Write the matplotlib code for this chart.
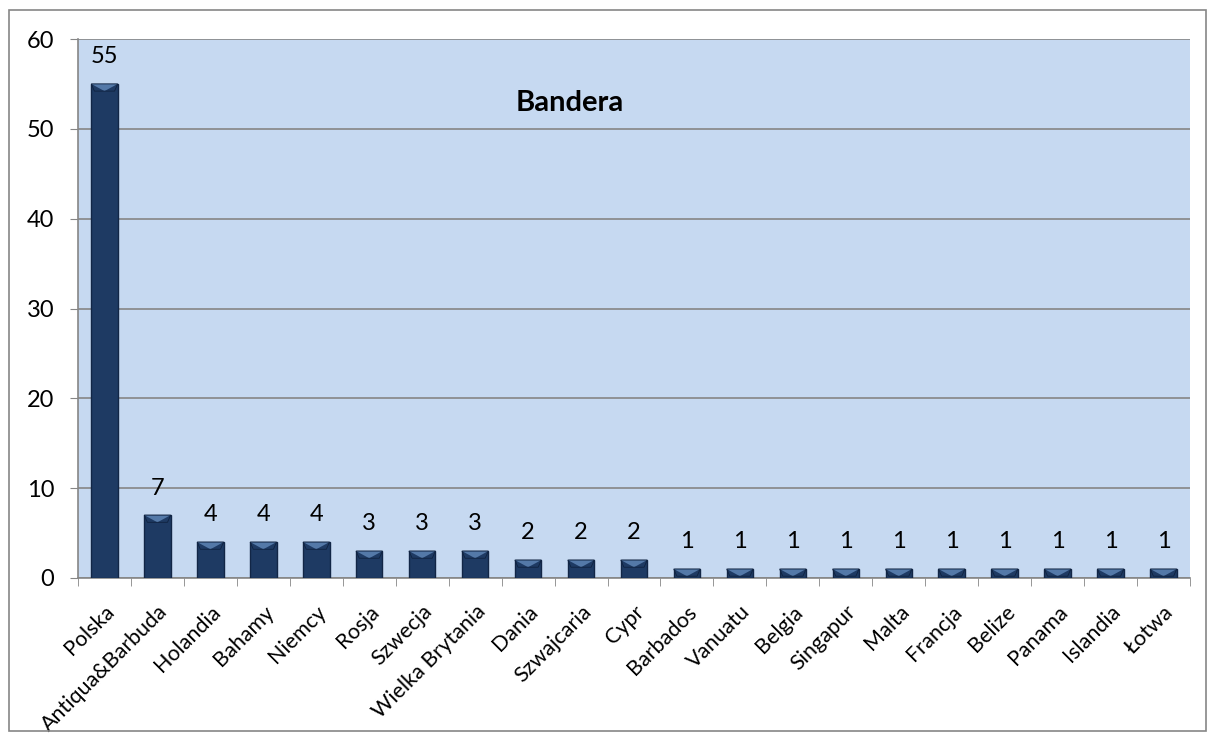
import matplotlib.pyplot as plt
from matplotlib.patches import Polygon, Rectangle

countries = ['Polska', 'Antiqua&Barbuda', 'Holandia', 'Bahamy', 'Niemcy', 'Rosja',
             'Szwecja', 'Wielka Brytania', 'Dania', 'Szwajcaria', 'Cypr', 'Barbados',
             'Vanuatu', 'Belgia', 'Singapur', 'Malta', 'Francja', 'Belize', 'Panama',
             'Islandia', 'Łotwa']
counts = [55, 7, 4, 4, 4, 3, 3, 3, 2, 2, 2, 1, 1, 1, 1, 1, 1, 1, 1, 1, 1]
yticks = [0, 10, 20, 30, 40, 50, 60]

plt.rcParams['font.family'] = ['Lato', 'DejaVu Sans']

fig = plt.figure(figsize=(12.08, 7.33), dpi=100)
W, H = 1208, 733
ax = fig.add_axes([78 / W, 1 - 578 / H, (1190 - 78) / W, (578 - 39) / H])

# outer chart border
fig.patches.append(Rectangle((9 / W, 2 / H), 1197 / W, 721 / H, transform=fig.transFigure,
                             fill=False, edgecolor='#868686', linewidth=1.2))

ax.set_facecolor('#C6D9F1')
x = list(range(len(countries)))
bw = 0.5
ax.bar(x, counts, width=bw, color='#1E3A63', edgecolor='#122646', linewidth=1.0, zorder=3)

# bevel on top of each bar
bev = 0.8
for xi, v in zip(x, counts):
    l, r = xi - bw / 2, xi + bw / 2
    ax.add_patch(Polygon([(l, v), (r, v), (xi, v - bev)], closed=True,
                         facecolor='#5479A8', edgecolor='none', zorder=4))
    ax.add_patch(Polygon([(l, v), (r, v), (r - 0.06, v - bev), (l + 0.06, v - bev)], closed=True,
                         facecolor='none', edgecolor='#0F223F', linewidth=0.6, zorder=4))
    ax.annotate(str(v), (xi, v), xytext=(0, 19.5), textcoords='offset points',
                ha='center', va='center', fontsize=17, color='black', zorder=5)

ax.set_xlim(-0.5, len(countries) - 0.5)
ax.set_ylim(0, 60)
ax.set_yticks(yticks)
ax.tick_params(axis='y', labelsize=17, length=6, color='#868686', pad=11)
ax.yaxis.grid(True, color='#868686', linewidth=1.2, zorder=1)
ax.set_axisbelow(True)

ax.set_xticks(x)
ax.set_xticklabels(countries, rotation=45, ha='right', rotation_mode='anchor', fontsize=15.5)
ax.tick_params(axis='x', length=0, pad=17)
ax.set_xticks([i - 0.5 for i in range(len(countries) + 1)], minor=True)
ax.tick_params(axis='x', which='minor', length=6, color='#868686')

for s in ['top', 'right']:
    ax.spines[s].set_visible(False)
for s in ['left', 'bottom']:
    ax.spines[s].set_color('#868686')
    ax.spines[s].set_linewidth(1.2)

ax.text(0.442, 0.881, 'Bandera', transform=ax.transAxes, ha='center', va='center',
        fontsize=21, fontweight='bold')

fig.savefig('out.png', dpi=100)
